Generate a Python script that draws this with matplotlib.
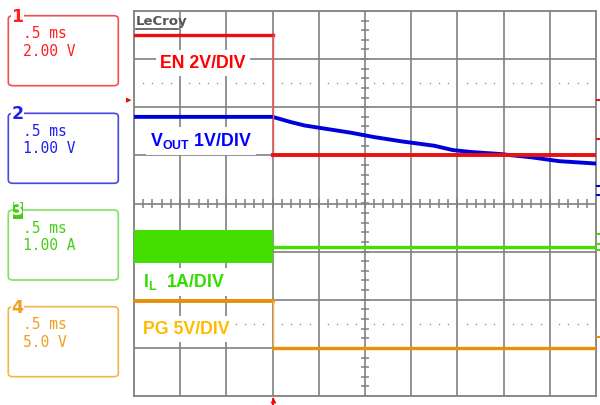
import matplotlib
matplotlib.use('agg')
import matplotlib.pyplot as plt
from matplotlib.patches import FancyBboxPatch, Rectangle
import numpy as np

plt.rcParams['mathtext.fontset'] = 'custom'
plt.rcParams['mathtext.rm'] = 'Liberation Sans:bold'
plt.rcParams['mathtext.bf'] = 'Liberation Sans:bold'

# time base: 0.5 ms/div, trigger at t = 0
t_start, t_stop, t_trig = -1.5, 3.5, 0.0

# channel settings: volts (amps) per division and screen offset in divisions
ch_names = ['EN', 'VOUT', 'IL', 'PG']
ch_scale = [2.0, 1.0, 1.0, 5.0]
ch_offset = [1.0, -1.5, -0.9, -3.0]
ch_units = ['2.00 V', '1.00 V', '1.00 A', '5.0 V']

# EN (V)
en_hi, en_lo = 5.0, 0.0
# VOUT (V) discharge after EN goes low
vout_t = [-1.5, 0.0, 0.2, 0.35, 0.55, 0.85, 1.1, 1.4, 1.75, 1.95, 2.15, 2.45, 2.8, 3.1, 3.5]
vout_v = [3.30, 3.30, 3.19, 3.12, 3.06, 2.97, 2.88, 2.79, 2.70, 2.61, 2.57, 2.53, 2.46, 2.38, 2.33]
# IL (A): switching envelope before, zero after
il_max, il_min, il_off = 0.35, -0.34, 0.0
# PG (V)
pg_hi, pg_lo = 4.9, 0.0

c_red, c_blue, c_green, c_orange = '#e81010', '#0000dd', '#44dd00', '#e8900a'
grid_c = '#808080'


def div(v, ch):
    return np.asarray(v) / ch_scale[ch] + ch_offset[ch]


def px(x, y):
    return x / 600, 1 - y / 405


fig = plt.figure(figsize=(6, 4.05), dpi=100)
ax = fig.add_axes([134 / 600, 9 / 405, 462 / 600, 385 / 405])
ax.set_xlim(t_start, t_stop)
ax.set_ylim(-4, 4)
ax.set_xticks([])
ax.set_yticks([])
for s in ax.spines.values():
    s.set_color(grid_c)
    s.set_linewidth(1.3)

# graticule
for k in range(1, 10):
    ax.axvline(t_start + 0.5 * k, color=grid_c, lw=1.2, zorder=1)
for j in range(-3, 4):
    ax.axhline(j, color=grid_c, lw=1.2, zorder=1)
tx = np.arange(t_start, t_stop + 1e-9, 0.1)
ax.vlines(tx, -0.09, 0.09, color=grid_c, lw=1.1, zorder=1)
ty = np.arange(-4, 4.001, 0.2)
ax.hlines(ty, 1.0 - 0.045, 1.0 + 0.045, color=grid_c, lw=1.1, zorder=1)
dots = tx[np.abs(((tx - t_start) / 0.5) - np.round((tx - t_start) / 0.5)) > 0.01]
for yy in (2.5, -2.5):
    ax.plot(dots, np.full_like(dots, yy), 's', ms=1.0, color='#909090', mec='none', zorder=1)

# traces
ax.plot([t_start, t_trig], div([en_hi, en_hi], 0), color=c_red, lw=2.4, zorder=4)
ax.plot([t_trig, t_trig], div([en_hi, en_lo], 0), color='#ff5050', lw=1.0, zorder=4)
ax.plot([t_trig, t_stop], div([en_lo, en_lo], 0), color=c_red, lw=2.8, zorder=5)

ax.plot(vout_t, div(vout_v, 1), color=c_blue, lw=2.8, zorder=3)

ax.fill_between([t_start, t_trig], div(il_min, 2), div(il_max, 2), color=c_green, lw=0, zorder=3)
ax.plot([t_trig, t_stop], div([il_off, il_off], 2), color=c_green, lw=2.4, zorder=3)

ax.plot([t_start, t_trig], div([pg_hi, pg_hi], 3), color=c_orange, lw=2.8, zorder=3)
ax.plot([t_trig, t_trig], div([pg_hi, pg_lo], 3), color='#f5b050', lw=1.0, zorder=3)
ax.plot([t_trig, t_stop], div([pg_lo, pg_lo], 3), color=c_orange, lw=2.4, zorder=3)

# trace labels
lab = dict(fontsize=12.8, fontweight='bold', family='Liberation Sans', va='center',
           transform=fig.transFigure, zorder=2,
           bbox=dict(boxstyle='square,pad=0.25', fc='white', ec='none'))
ax.text(*px(160, 63), 'EN 2V/DIV', color='#ff0000', **lab)
ax.text(*px(150, 141), r'V$_{\mathbf{OUT}}$ 1V/DIV', color='#0000ff', **lab)
ax.text(*px(143, 282), r'I$_{\mathbf{L}}$  1A/DIV', color='#33dd00', **lab)
ax.text(*px(143, 329), 'PG 5V/DIV', color='#ffbb00', **lab)

# LeCroy logo
ax.text(*px(136, 21), 'LeCroy', transform=fig.transFigure, fontsize=9.5, fontweight='bold',
        color='#555555', va='center', zorder=6)
fig.add_artist(plt.Line2D([136 / 600, 178 / 600], [1 - 29 / 405, 1 - 29 / 405], color='#555555', lw=1.2))

# channel info boxes on the left
box_top = [15.7, 113.3, 210.0, 306.7]
box_edge = ['#f05050', '#4848e0', '#80e060', '#f0b848']
box_text = ['#ff2020', '#2020ee', '#44d010', '#f0a020']
for i in range(4):
    y0 = box_top[i]
    x0, y1 = 8.3 / 600, 1 - (y0 + 70) / 405
    fig.add_artist(FancyBboxPatch((x0, y1), 110 / 600, 70 / 405, boxstyle='round,pad=0,rounding_size=0.008',
                                  transform=fig.transFigure, fc='none', ec=box_edge[i], lw=1.2))
    fig.text(*px(23, y0 + 18), '.5 ms', color=box_text[i], fontsize=10.5, family='DejaVu Sans Mono', va='center')
    fig.text(*px(23, y0 + 35.5), ch_units[i], color=box_text[i], fontsize=10.5, family='DejaVu Sans Mono', va='center')
    if i == 2:
        fig.add_artist(Rectangle((12.8 / 600, 1 - (y0 + 8.5) / 405), 10.5 / 600, 17 / 405,
                                 transform=fig.transFigure, fc='#44d010', ec='none'))
        fig.text(*px(18, y0 + 0.5), str(i + 1), color='white', fontsize=12, fontweight='bold', ha='center', va='center')
    else:
        fig.text(*px(17.5, y0 + 1), str(i + 1), color=box_text[i], fontsize=12.5, fontweight='bold',
                 ha='center', va='center', bbox=dict(boxstyle='square,pad=0.05', fc='white', ec='none'))

# markers around the graticule
fig.text(*px(129, 100), '\u25B8', color=c_red, fontsize=8, ha='center', va='center')
fig.add_artist(plt.Line2D([273 / 600, 273 / 600], [1 - 405 / 405, 1 - 399 / 405], color=c_red, lw=1.5))
fig.add_artist(plt.Line2D([273 / 600], [1 - 400 / 405], marker='^', ms=5, color=c_red, mec='none'))
for y, c in [(100, c_red), (139, c_red), (186, c_blue), (195, c_blue),
             (234, c_green), (244, c_green), (250, c_green), (337, c_orange)]:
    fig.add_artist(plt.Line2D([597 / 600, 600 / 600], [1 - y / 405] * 2, color=c, lw=1.5))

fig.savefig('out.png', dpi=100)
plt.close()
